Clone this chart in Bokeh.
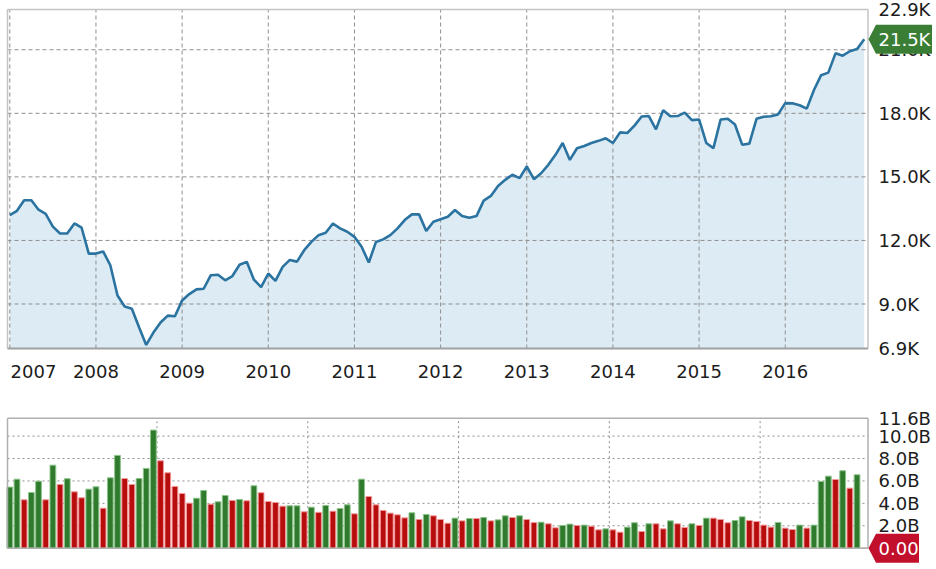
from bokeh.plotting import figure
from bokeh.layouts import column
from bokeh.models import Range1d
from bokeh.core.properties import value
from bokeh.embed import file_html
from bokeh.resources import INLINE

# ---------------- data ----------------
months = list(range(120))  # Jan 2007 .. Dec 2016, monthly

price_k = [13.2, 13.4, 13.9, 13.9, 13.45, 13.25, 12.65, 12.33, 12.33, 12.8, 12.6, 11.38,
           11.38, 11.48, 10.83, 9.4, 8.88, 8.78, 7.9, 7.07, 7.65, 8.13, 8.45, 8.42,
           9.17, 9.47, 9.69, 9.72, 10.36, 10.38, 10.12, 10.32, 10.85, 10.99, 10.15, 9.8,
           10.44, 10.09, 10.75, 11.08, 11.0, 11.54, 11.93, 12.25, 12.36, 12.8, 12.57, 12.41,
           12.17, 11.7, 10.96, 11.93, 12.05, 12.25, 12.57, 12.96, 13.23, 13.23, 12.45, 12.88,
           13.0, 13.12, 13.44, 13.15, 13.07, 13.15, 13.88, 14.1, 14.57, 14.86, 15.1, 14.94,
           15.49, 14.89, 15.17, 15.57, 16.04, 16.6, 15.8, 16.35, 16.46, 16.6, 16.7, 16.82,
           16.6, 17.1, 17.07, 17.42, 17.85, 17.87, 17.24, 18.15, 17.86, 17.87, 18.03, 17.68,
           17.71, 16.6, 16.36, 17.71, 17.74, 17.47, 16.52, 16.57, 17.74, 17.84, 17.86, 17.95,
           18.48, 18.47, 18.38, 18.22, 19.1, 19.8, 19.92, 20.83, 20.72, 20.93, 21.03, 21.5]

volume_b = [5.45, 6.16, 4.32, 4.97, 5.98, 4.32, 7.41, 5.69, 6.2, 5.03, 4.5, 5.27,
            5.48, 3.57, 6.28, 8.28, 6.22, 5.69, 6.22, 7.12, 10.54, 7.8, 6.73, 5.51,
            4.88, 4.02, 4.46, 5.15, 3.93, 4.14, 4.7, 4.26, 4.35, 4.23, 5.57, 4.95,
            4.17, 4.08, 3.75, 3.78, 3.78, 3.25, 3.66, 3.2, 3.81, 3.3, 3.54, 3.87,
            3.07, 6.16, 4.62, 3.87, 3.37, 3.13, 2.98, 2.71, 3.16, 2.56, 3.01, 2.89,
            2.56, 2.23, 2.68, 2.44, 2.65, 2.65, 2.74, 2.44, 2.53, 2.89, 2.74, 2.89,
            2.56, 2.29, 2.32, 2.18, 1.82, 2.03, 2.15, 2.03, 2.06, 1.96, 1.64, 1.73,
            1.64, 1.43, 1.88, 2.27, 1.49, 2.18, 2.18, 1.73, 2.44, 2.18, 1.85, 2.18,
            2.03, 2.68, 2.68, 2.56, 2.27, 2.47, 2.8, 2.47, 2.38, 2.06, 1.88, 2.3,
            1.79, 1.67, 2.06, 1.79, 2.06, 5.96, 6.43, 6.13, 6.91, 5.36, 6.55, 0.0]

volume_dir = ("GGRGGRGRGRRG" "GRGGRRGGGRRR" "RRGGRGGRGRGR" "RRRGGRGRGRGG"
              "RGRRRRRRGRGR" "RRGRGRGRGGRG" "RRGRRGGRGRRG" "RRGGRGRRGRRG"
              "RGRRRGGRRRRG" "RRGRGGGRGRGR")

year_labels = ["2007", "2008", "2009", "2010", "2011", "2012", "2013", "2014", "2015", "2016"]
year_starts = [0, 12, 24, 36, 48, 60, 72, 84, 96, 108]
year_label_pos = [3.3, 12, 24, 36, 48, 60, 72, 84, 96, 108]

price_min, price_max = 6.9, 22.9
price_ticks = [6.9, 9.0, 12.0, 15.0, 18.0, 21.0, 22.9]
price_tick_labels = ["6.9K", "9.0K", "12.0K", "15.0K", "18.0K", "21.0K", "22.9K"]
price_grid = [9.0, 12.0, 15.0, 18.0, 21.0]

vol_max = 11.6
vol_ticks = [0.0, 2.0, 4.0, 6.0, 8.0, 10.0, 11.6]
vol_tick_labels = ["0.00", "2.0B", "4.0B", "6.0B", "8.0B", "10.0B", "11.6B"]
vol_grid_y = [2.0, 4.0, 6.0, 8.0, 10.0]
vol_grid_x = [20.5, 41.5, 62.5, 83.5, 104.5]

# ---------------- style / geometry (pixels) ----------------
FONT = value("DejaVu Sans")
TXT = "#1c1c1c"
W = 936
PXX = 7.18          # px per month
X_AT0 = 9.3         # page x of first month
LEFT_PX, RIGHT_PX = 7.0, 867.5
UP, DOWN = "#2f7a2d", "#b80d0d"
UP_EDGE, DOWN_EDGE = "#8cc48a", "#f29a9a"
TAG_UP, TAG_DOWN = "#3a7d35", "#c10f2c"
GRID = "#8f8f8f"
BORDER = "#c4c4c4"


def dx(px):
    return px / PXX


FX0 = -X_AT0 / PXX
FX1 = (W - X_AT0) / PXX
X0 = (LEFT_PX - X_AT0) / PXX
X1 = (RIGHT_PX - X_AT0) / PXX


def make_fig(height, top_px, bottom_px, vmin, vmax):
    py = (bottom_px - top_px) / (vmax - vmin)
    yr = Range1d(vmin - (height - bottom_px) / py, vmax + top_px / py)
    f = figure(width=W, height=height, x_range=Range1d(FX0, FX1), y_range=yr,
               x_axis_type=None, y_axis_type=None, output_backend="svg",
               toolbar_location=None, min_border=0)
    f.outline_line_color = None
    f.xgrid.visible = False
    f.ygrid.visible = False
    return f, py


def right_labels(f, ticks, labels):
    f.text(x=X1 + dx(10.5), y=ticks, text=labels, text_font=FONT, text_font_size="18px",
           text_color=TXT, text_baseline="middle", text_align="left")


def add_tag(f, py, v, text, color, width_px):
    h = 14.5 / py
    f.patch(x=[X1 + dx(0.5), X1 + dx(8), X1 + dx(width_px), X1 + dx(width_px), X1 + dx(8)],
            y=[v, v + h, v + h, v - h, v - h], fill_color=color, line_color=None)
    f.text(x=X1 + dx(10.5), y=v, text=[text], text_font=FONT, text_font_size="18px",
           text_color="white", text_baseline="middle", text_align="left")


# ---------------- price chart ----------------
H1 = 403
p, PY1 = make_fig(H1, 9.0, 348.0, price_min, price_max)

p.varea(x=months, y1=price_min, y2=price_k, fill_color="#dcebf4")
p.segment(x0=year_starts, y0=price_min, x1=year_starts, y1=price_max,
          line_color=GRID, line_dash="4 3", line_width=1)
p.segment(x0=X0, y0=price_grid, x1=X1, y1=price_grid,
          line_color=GRID, line_dash="4 3", line_width=1)
p.segment(x0=[X0, X0, X1], y0=[price_min, price_max, price_min],
          x1=[X0, X1, X1], y1=[price_max, price_max, price_max],
          line_color=BORDER, line_width=1.5)
p.segment(x0=X0, y0=price_min, x1=X1, y1=price_min, line_color="#a0a0a0", line_width=2)
p.line(months, price_k, line_color="#2b73a0", line_width=2.6)

p.text(x=year_label_pos, y=price_min - 22.5 / PY1, text=year_labels, text_font=FONT,
       text_font_size="18px", text_color=TXT, text_baseline="middle", text_align="center")
right_labels(p, price_ticks, price_tick_labels)
add_tag(p, PY1, price_k[-1], f"{price_k[-1]:.1f}K", TAG_UP, 64)

# ---------------- volume chart ----------------
H2 = 569 - H1
q, PY2 = make_fig(H2, 417.7 - H1, 547.7 - H1, 0.0, vol_max)
q.x_range = p.x_range

q.segment(x0=vol_grid_x, y0=0, x1=vol_grid_x, y1=vol_max,
          line_color=GRID, line_dash="2 3", line_width=1)
q.segment(x0=X0, y0=vol_grid_y, x1=X1, y1=vol_grid_y,
          line_color=GRID, line_dash="2 3", line_width=1)

fills = [UP if d == "G" else DOWN for d in volume_dir]
edges = [UP_EDGE if d == "G" else DOWN_EDGE for d in volume_dir]
q.vbar(x=months, top=volume_b, width=0.8, fill_color=fills, line_color=edges, line_width=1)

q.segment(x0=[X0, X0, X1, X0], y0=[0, vol_max, 0, 0],
          x1=[X0, X1, X1, X1], y1=[vol_max, vol_max, vol_max, 0],
          line_color="#b0b0b0", line_width=1.5)

right_labels(q, vol_ticks, vol_tick_labels)
add_tag(q, PY2, volume_b[-1], f"{volume_b[-1]:.2f}", TAG_DOWN, 51)

layout = column(p, q, spacing=0)
open("out.html", "w").write(file_html(layout, INLINE))
